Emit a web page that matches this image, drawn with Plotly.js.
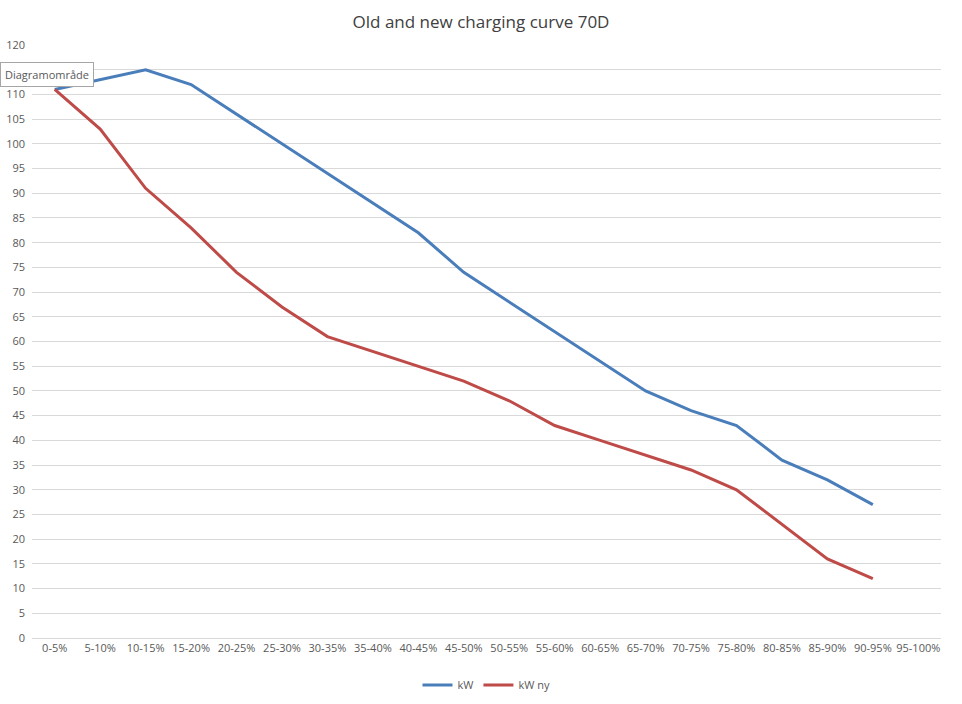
<!DOCTYPE html>
<html>
<head>
<meta charset="utf-8">
<script src="https://cdn.plot.ly/plotly-3.0.1.min.js"></script>
<style>
  html, body { margin: 0; padding: 0; background: #fff; }
  #graphic { width: 962px; height: 704px; }
</style>
</head>
<body>
<div id="graphic"></div>
<script>
var categories = ["0-5%", "5-10%", "10-15%", "15-20%", "20-25%", "25-30%", "30-35%", "35-40%", "40-45%", "45-50%",
    "50-55%", "55-60%", "60-65%", "65-70%", "70-75%", "75-80%", "80-85%", "85-90%", "90-95%", "95-100%"];

// old curve
var kw = [111, 113, 115, 112, 106, 100, 94, 88, 82, 74, 68, 62, 56, 50, 46, 43, 36, 32, 27, null];
// new curve
var kwNy = [111, 103, 91, 83, 74, 67, 61, 58, 55, 52, 48, 43, 40, 37, 34, 30, 23, 16, 12, null];

var yTicks = [];
for (var v = 0; v <= 120; v += 5) yTicks.push(v);

var font = "Open Sans, Liberation Sans, sans-serif";

var old = {
    x: categories,
    y: kw,
    type: 'scatter',
    mode: 'lines',
    name: 'kW',
    line: { color: '#4A7EBB', width: 3 }
};

var ny = {
    x: categories,
    y: kwNy,
    type: 'scatter',
    mode: 'lines',
    name: 'kW ny',
    line: { color: '#BE4B48', width: 3 }
};

var layout = {
    width: 962,
    height: 704,
    margin: { l: 32, r: 21, t: 45, b: 66, autoexpand: false },
    paper_bgcolor: '#fff',
    plot_bgcolor: '#fff',
    font: { family: font, size: 11, color: '#595959' },
    title: {
        text: 'Old and new charging curve 70D',
        font: { family: font, size: 17, color: '#404040' },
        x: 0.5, xanchor: 'center', y: 0.968, yanchor: 'middle'
    },
    xaxis: {
        type: 'category',
        categoryorder: 'array',
        categoryarray: categories,
        range: [-0.5, 19.5],
        showgrid: false,
        showline: true,
        linecolor: '#d9d9d9',
        linewidth: 1,
        ticks: '',
        tickangle: 0,
        tickfont: { size: 11, color: '#595959' },
        fixedrange: true
    },
    yaxis: {
        range: [0, 120],
        tickvals: yTicks,
        showgrid: true,
        gridcolor: '#d9d9d9',
        gridwidth: 1,
        zeroline: false,
        showline: false,
        ticks: '',
        ticklabelstandoff: 6,
        tickfont: { size: 11, color: '#595959' },
        fixedrange: true
    },
    showlegend: true,
    legend: {
        orientation: 'h',
        yref: 'container',
        x: 0.5, xanchor: 'center',
        y: 0.027, yanchor: 'middle',
        font: { size: 11, color: '#595959' },
        itemwidth: 30,
        tracegroupgap: 0
    },
    annotations: [{
        xref: 'paper', yref: 'paper',
        x: -0.035, y: 0.95,
        xanchor: 'left', yanchor: 'middle',
        text: 'Diagramområde',
        showarrow: false,
        bgcolor: '#ffffff',
        bordercolor: '#a6a6a6',
        borderwidth: 1,
        borderpad: 4,
        font: { family: font, size: 11, color: '#595959' }
    }]
};

Plotly.newPlot(document.getElementById("graphic"), [old, ny], layout, { displayModeBar: false, staticPlot: true });
</script>
</body>
</html>
